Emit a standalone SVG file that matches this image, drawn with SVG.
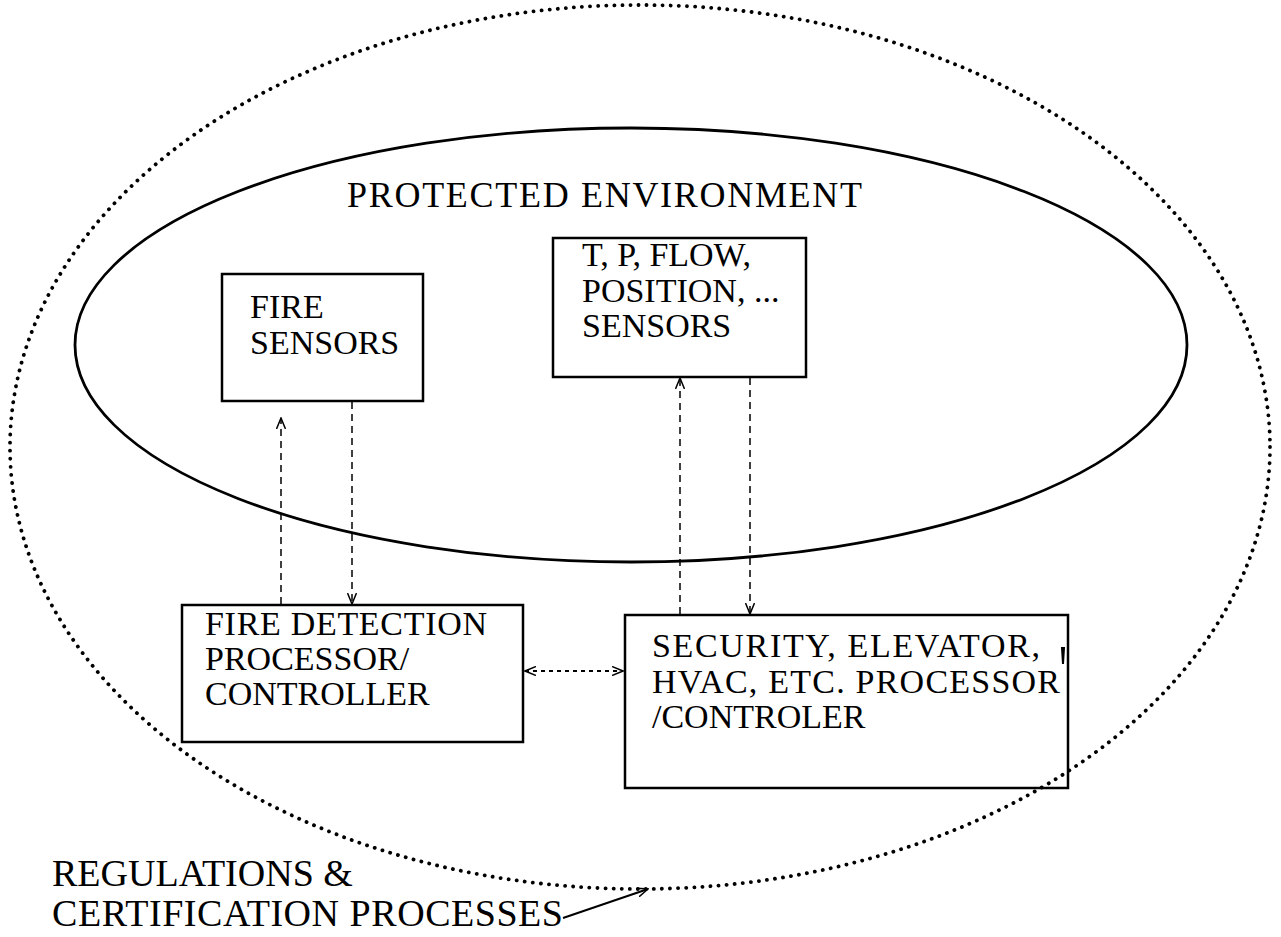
<svg xmlns="http://www.w3.org/2000/svg" width="1281" height="937" viewBox="0 0 1281 937">
<style>
text{font-family:"Liberation Serif","Times New Roman",serif;fill:#000;font-size:34px}
.box{fill:none;stroke:#000;stroke-width:2.5}
.dash{fill:none;stroke:#000;stroke-width:1.5;stroke-dasharray:7 5}
</style>
<defs>
<marker id="ah" viewBox="0 0 12 10" refX="11" refY="5" markerWidth="12" markerHeight="10" markerUnits="userSpaceOnUse" orient="auto-start-reverse">
<path d="M0,0.5 L11,5 L0,9.5" fill="none" stroke="#000" stroke-width="1.5"/>
</marker>
</defs>
<rect width="1281" height="937" fill="#fff"/>
<g id="regulations">
<ellipse cx="640" cy="447" rx="630" ry="442" fill="none" stroke="#000" stroke-width="3.8" stroke-dasharray="0.1 8" stroke-linecap="round"/>
<text x="52" y="886" style="font-size:38px">REGULATIONS &amp;</text>
<text x="52" y="926" style="font-size:38px" textLength="511">CERTIFICATION PROCESSES</text>
</g>
<g id="protected-environment">
<ellipse cx="631" cy="345" rx="556" ry="217" fill="none" stroke="#000" stroke-width="2.8"/>
<text x="347" y="207" style="font-size:36px" textLength="515">PROTECTED ENVIRONMENT</text>
</g>
<g id="fire-sensors">
<rect class="box" x="222" y="274" width="201" height="127"/>
<text x="250" y="318">FIRE</text>
<text x="250" y="354">SENSORS</text>
</g>
<g id="other-sensors">
<rect class="box" x="553" y="238" width="253" height="139"/>
<text x="582" y="266">T, P, FLOW,</text>
<text x="582" y="302">POSITION, ...</text>
<text x="582" y="337">SENSORS</text>
</g>
<g id="fire-detection">
<rect class="box" x="182" y="605" width="341" height="137"/>
<text x="205" y="635" textLength="282">FIRE DETECTION</text>
<text x="205" y="670">PROCESSOR/</text>
<text x="205" y="705">CONTROLLER</text>
</g>
<g id="security">
<rect class="box" x="625" y="615" width="443" height="173"/>
<text x="652" y="657" textLength="388">SECURITY, ELEVATOR,</text>
<text x="652" y="693" textLength="408">HVAC, ETC. PROCESSOR</text>
<text x="652" y="728">/CONTROLER</text>
<path d="M1062,648 L1064,648 L1063,664 Z" fill="#000" stroke="#000" stroke-width="2"/>
</g>
<g id="connectors">
<line class="dash" x1="281" y1="604" x2="281" y2="418" marker-end="url(#ah)"/>
<line class="dash" x1="352" y1="402" x2="352" y2="604" marker-end="url(#ah)"/>
<line class="dash" x1="680" y1="614" x2="680" y2="378" marker-end="url(#ah)"/>
<line class="dash" x1="750" y1="378" x2="750" y2="614" marker-end="url(#ah)"/>
<line x1="525" y1="671" x2="623" y2="671" fill="none" stroke="#000" stroke-width="2" stroke-dasharray="4 4" marker-start="url(#ah)" marker-end="url(#ah)"/>
<line x1="563" y1="918" x2="648" y2="889" stroke="#000" stroke-width="2" marker-end="url(#ah)"/>
</g>
</svg>
